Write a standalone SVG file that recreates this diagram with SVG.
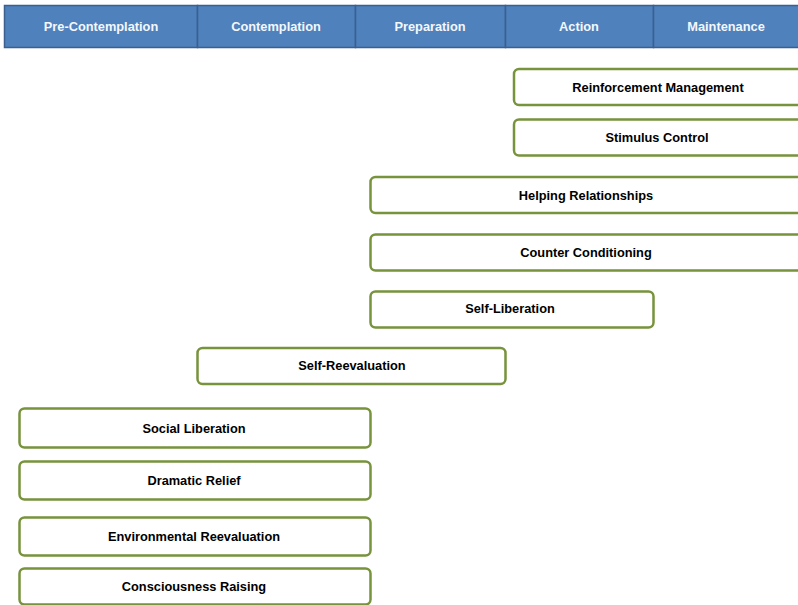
<svg xmlns="http://www.w3.org/2000/svg" width="798" height="605" viewBox="0 0 798 605">
<style>
.hd{fill:#4f81bd;stroke:#3b5f8f;stroke-width:1.5}
.ht{fill:#f4f7fb;font-family:"Liberation Sans",Arial,sans-serif;font-weight:bold;font-size:12.8px;text-anchor:middle}
.bx{fill:#ffffff;stroke:#77933c;stroke-width:2.5}
.bt{fill:#000000;font-family:"Liberation Sans",Arial,sans-serif;font-weight:bold;font-size:12.8px;text-anchor:middle}
</style>
<rect width="798" height="605" fill="#ffffff"/>
<g id="header">
<g id="h-precontemplation"><rect class="hd" x="4.5" y="5.5" width="193" height="42"/><text class="ht" x="101" y="31">Pre-Contemplation</text></g>
<g id="h-contemplation"><rect class="hd" x="197.5" y="5.5" width="158" height="42"/><text class="ht" x="276" y="31">Contemplation</text></g>
<g id="h-preparation"><rect class="hd" x="355.5" y="5.5" width="150" height="42"/><text class="ht" x="430" y="31">Preparation</text></g>
<g id="h-action"><rect class="hd" x="505.5" y="5.5" width="148" height="42"/><text class="ht" x="579" y="31">Action</text></g>
<g id="h-maintenance"><rect class="hd" x="653.5" y="5.5" width="150" height="42"/><text class="ht" x="726" y="31">Maintenance</text></g>
</g>
<g id="connectors"></g>
<g id="reinforcement-management"><rect class="bx" x="514" y="69" width="295" height="36" rx="5"/><text class="bt" x="658" y="91.5">Reinforcement Management</text></g>
<g id="stimulus-control"><rect class="bx" x="514" y="119.5" width="295" height="36" rx="5"/><text class="bt" x="657" y="142">Stimulus Control</text></g>
<g id="helping-relationships"><rect class="bx" x="370.5" y="177" width="440" height="36" rx="5"/><text class="bt" x="586" y="199.5">Helping Relationships</text></g>
<g id="counter-conditioning"><rect class="bx" x="370.5" y="234.5" width="440" height="36" rx="5"/><text class="bt" x="586" y="257">Counter Conditioning</text></g>
<g id="self-liberation"><rect class="bx" x="370.5" y="291.5" width="283" height="36" rx="5"/><text class="bt" x="510" y="313">Self-Liberation</text></g>
<g id="self-reevaluation"><rect class="bx" x="197.5" y="348" width="308" height="36" rx="5"/><text class="bt" x="352" y="370">Self-Reevaluation</text></g>
<g id="social-liberation"><rect class="bx" x="19.5" y="408.5" width="351" height="39" rx="5"/><text class="bt" x="194" y="432.5">Social Liberation</text></g>
<g id="dramatic-relief"><rect class="bx" x="19.5" y="461.5" width="351" height="38" rx="5"/><text class="bt" x="194" y="484.5">Dramatic Relief</text></g>
<g id="environmental-reevaluation"><rect class="bx" x="19.5" y="517.5" width="351" height="38" rx="5"/><text class="bt" x="194" y="540.5">Environmental Reevaluation</text></g>
<g id="consciousness-raising"><rect class="bx" x="19.5" y="568.5" width="351" height="36" rx="5"/><text class="bt" x="194" y="590.5">Consciousness Raising</text></g>
</svg>
